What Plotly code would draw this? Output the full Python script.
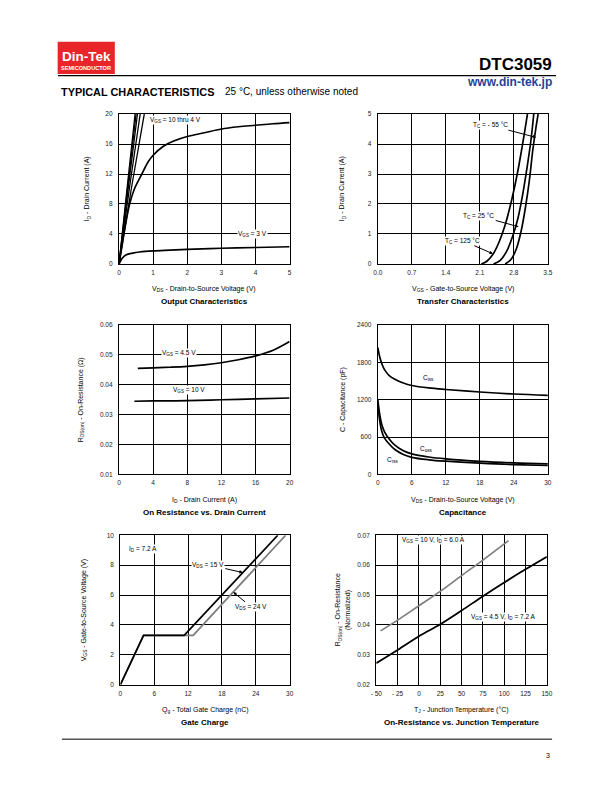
import plotly.graph_objects as go

W, H = 612, 792
FONT = "Liberation Sans, Arial, sans-serif"
NARROW = "Liberation Sans Narrow, Arial Narrow, Liberation Sans, Arial, sans-serif"
GRAY = "#7e7e7e"

# ---------------- data ----------------
# 1) Output characteristics
out_vds_steep = [[0, 0.24, 0.47], [0, 0.255, 0.50], [0, 0.275, 0.54], [0, 0.31, 0.62], [0, 0.37, 0.74]]
out_id_steep = [0, 10.3, 20]
out_vds_4v = [0, 0.1, 0.2, 0.31, 0.45, 0.67, 0.85, 1.0, 1.3, 1.6, 2.0, 2.5, 3.0, 3.5, 4.0, 4.5, 5.0]
out_id_4v = [0, 2.8, 5.5, 8.0, 10.0, 12.0, 13.6, 14.5, 15.7, 16.4, 17.0, 17.5, 18.0, 18.3, 18.5, 18.7, 18.85]
out_vds_3v = [0, 0.05, 0.1, 0.2, 0.4, 0.6, 1.0, 1.5, 2, 3, 4, 5]
out_id_3v = [0, 0.45, 0.8, 1.2, 1.45, 1.6, 1.75, 1.85, 1.95, 2.1, 2.2, 2.3]

# 2) Transfer characteristics
tr_vgs_125 = [2.13, 2.25, 2.38, 2.5, 2.62, 2.75, 2.87, 2.98, 3.08]
tr_id_125 = [0, 0.1, 0.35, 0.75, 1.3, 2.1, 3.0, 4.0, 5.0]
tr_vgs_25 = [2.38, 2.52, 2.65, 2.77, 2.88, 2.98, 3.07, 3.15, 3.21]
tr_id_25 = [0, 0.12, 0.42, 0.9, 1.5, 2.3, 3.2, 4.1, 5.0]
tr_vgs_m55 = [2.62, 2.74, 2.85, 2.95, 3.04, 3.12, 3.19, 3.25, 3.30]
tr_id_m55 = [0, 0.15, 0.5, 1.1, 1.9, 2.8, 3.8, 4.5, 5.0]

# 3) On-resistance vs drain current
ron_id_45 = [2.2, 4, 6, 8, 10, 12, 14, 16, 18, 20]
ron_r_45 = [0.0455, 0.0457, 0.0459, 0.0462, 0.0467, 0.0474, 0.0484, 0.0497, 0.0515, 0.0545]
ron_id_10 = [1.8, 4, 8, 12, 16, 20]
ron_r_10 = [0.0345, 0.0346, 0.0347, 0.0350, 0.0353, 0.0356]

# 4) Capacitance
cap_vds = [0, 0.3, 0.7, 1.2, 2, 3, 4.5, 6, 9, 12, 18, 24, 30]
cap_ciss = [2040, 1900, 1780, 1680, 1590, 1530, 1470, 1430, 1390, 1365, 1325, 1293, 1272]
cap_coss = [1200, 980, 800, 680, 570, 470, 380, 330, 280, 250, 210, 185, 170]
cap_crss = [1150, 880, 690, 580, 490, 400, 320, 275, 235, 212, 180, 158, 143]

# 5) Gate charge
gc_q_15 = [0, 4.1, 11.3, 27.9]
gc_v_15 = [0, 3.3, 3.3, 10]
gc_q_24 = [0, 4.1, 12.9, 29.3]
gc_v_24 = [0, 3.3, 3.3, 10]

# 6) On-resistance vs junction temperature
tj_45 = [-50, -25, 0, 25, 50, 75, 100, 125, 150]
rt_45 = [0.0272, 0.0316, 0.0362, 0.0402, 0.0448, 0.0496, 0.0542, 0.0586, 0.0628]
tj_10 = [-45, -25, 0, 25, 50, 75, 105]
rt_10 = [0.038, 0.0416, 0.0464, 0.0512, 0.0565, 0.0617, 0.0682]
tj_ticks = [-50, -25, 0, 25, 50, 75, 100, 125, 150]
tj_ticktext = ["- 50", "- 25", "0", "25", "50", "75", "100", "125", "150"]


def PX(x):
    return x / W


def PY(y):
    return 1 - y / H


# plot frames in pixels: (left, right, top, bottom)
frames = [
    (115.3, 289.3, 111.0, 262.3),
    (379.3, 552.7, 111.0, 262.3),
    (115.3, 289.3, 324.0, 474.6),
    (379.3, 552.7, 324.0, 474.6),
    (116.7, 289.3, 536.0, 686.7),
    (377.7, 551.7, 536.0, 686.7),
]

fig = go.Figure()


def add(i, x, y, color="black", width=1.7, shape="spline"):
    fig.add_trace(go.Scatter(x=x, y=y, mode="lines", xaxis="x%d" % i, yaxis="y%d" % i,
                             line=dict(color=color, width=width, shape=shape),
                             showlegend=False, hoverinfo="skip"))


# chart 1
for xs in out_vds_steep:
    add(1, xs, out_id_steep, width=1.3)
add(1, out_vds_4v, out_id_4v)
add(1, out_vds_3v, out_id_3v)
# chart 2
add(2, tr_vgs_125, tr_id_125)
add(2, tr_vgs_25, tr_id_25)
add(2, tr_vgs_m55, tr_id_m55)
# chart 3
add(3, ron_id_45, ron_r_45)
add(3, ron_id_10, ron_r_10)
# chart 4
add(4, cap_vds, cap_ciss)
add(4, cap_vds, cap_coss)
add(4, cap_vds, cap_crss)
# chart 5
add(5, gc_q_24, gc_v_24, color=GRAY, width=1.8, shape="linear")
add(5, gc_q_15, gc_v_15, shape="linear")
# chart 6
add(6, tj_10, rt_10, color=GRAY, width=1.7)
add(6, tj_45, rt_45, width=1.8)

axis_specs = [
    dict(xr=[0, 5], xd=1, xf="", yr=[0, 20], yd=4, yf=""),
    dict(xr=[0, 3.5], xd=0.7, xf=".1f", yr=[0, 5], yd=1, yf=""),
    dict(xr=[0, 20], xd=4, xf="", yr=[0.01, 0.06], yd=0.01, yf=".2f"),
    dict(xr=[0, 30], xd=6, xf="", yr=[0, 2400], yd=600, yf=""),
    dict(xr=[0, 30], xd=6, xf="", yr=[0, 10], yd=2, yf=""),
    dict(xr=[-50, 150], xd=25, xf="", yr=[0.02, 0.07], yd=0.01, yf=".2f"),
]

tickfont = dict(family=FONT, size=6.5, color="#222")
layout = dict(width=W, height=H, margin=dict(l=0, r=0, t=0, b=0),
              paper_bgcolor="white", plot_bgcolor="white", showlegend=False)

for i, (fr, sp) in enumerate(zip(frames, axis_specs), start=1):
    l, r, t, b = fr
    xa = dict(domain=[PX(l), PX(r)], range=sp["xr"], dtick=sp["xd"], tick0=sp["xr"][0],
              tickformat=sp["xf"], showgrid=True, gridcolor="black", gridwidth=1,
              showline=True, linecolor="black", linewidth=1.3, mirror=True,
              zeroline=False, ticks="", tickfont=tickfont, ticklabelstandoff=2,
              anchor="y%d" % i, fixedrange=True)
    ya = dict(domain=[PY(b), PY(t)], range=sp["yr"], dtick=sp["yd"], tick0=sp["yr"][0],
              tickformat=sp["yf"], showgrid=True, gridcolor="black", gridwidth=1,
              showline=True, linecolor="black", linewidth=1.3, mirror=True,
              zeroline=False, ticks="", tickfont=tickfont, ticklabelstandoff=4,
              anchor="x%d" % i, fixedrange=True)
    if i == 6:
        xa.update(tickmode="array", tickvals=tj_ticks, ticktext=tj_ticktext)
    key = "" if i == 1 else str(i)
    layout["xaxis" + key] = xa
    layout["yaxis" + key] = ya

ann = []
AX = 7  # axis title size
TT = 8  # chart title size


def T(px, py, text, size=6.5, bold=False, xanchor="center", color="black",
      family=FONT, angle=0, bg=None):
    d = dict(x=PX(px), y=PY(py), xref="paper", yref="paper", text=text, showarrow=False,
             xanchor=xanchor, yanchor="middle", textangle=angle,
             font=dict(family=family, size=size, color=color))
    if bold:
        d["text"] = "<b>" + text + "</b>"
    if bg:
        d["bgcolor"] = bg
        d["borderpad"] = 0
    ann.append(d)


def A(i, x, y, ax, ay, text):
    ann.append(dict(x=x, y=y, xref="x%d" % i, yref="y%d" % i, text=text, showarrow=True,
                    ax=ax, ay=ay, axref="pixel", ayref="pixel", arrowhead=2, arrowsize=0.7,
                    arrowwidth=1, arrowcolor="black", standoff=0, startstandoff=1,
                    font=dict(family=FONT, size=6.5, color="black"), bgcolor="white",
                    borderpad=0))


# header
T(559, 61, "DTC3059", size=17, bold=True, xanchor="right")
T(559, 78.5, "www.din-tek.jp", size=12, bold=True, xanchor="right", color="#1f3f9a")
T(54, 88.5, "TYPICAL CHARACTERISTICS", size=10.9, bold=True, xanchor="left")
T(221, 88.5, "25 °C, unless otherwise noted", size=10, xanchor="left")
T(82, 52.5, "Din-Tek", size=13.5, bold=True, color="white")
T(82, 64.5, "SEMICONDUCTOR", size=5.6, bold=True, color="white", family=NARROW)
T(557, 758, "3", size=7, xanchor="right")

# chart 1 text
T(83, 186.6, "I<sub>D</sub> - Drain Current (A)", size=AX, angle=-90)
T(202.3, 288, "V<sub>DS</sub> - Drain-to-Source Voltage (V)", size=AX)
T(202.3, 300.5, "Output Characteristics", size=TT, bold=True, family=NARROW)
T(146, 117.5, "V<sub>GS</sub> = 10 thru 4 V", xanchor="left", bg="white")
T(236, 232.5, "V<sub>GS</sub> = 3 V", xanchor="left", bg="white")

# chart 2 text
T(343, 186.6, "I<sub>D</sub> - Drain Current (A)", size=AX, angle=-90)
T(466, 288, "V<sub>GS</sub> - Gate-to-Source Voltage (V)", size=AX)
T(466, 300.5, "Transfer Characteristics", size=TT, bold=True, family=NARROW)
A(2, 3.26, 4.22, -46, -12, "T<sub>C</sub> = - 55 °C")
A(2, 2.90, 1.24, -40, -11, "T<sub>C</sub> = 25 °C")
A(2, 2.37, 0.34, -30, -13, "T<sub>C</sub> = 125 °C")

# chart 3 text
T(76, 399.3, "R<sub>DS(on)</sub> - On-Resistance (Ω)", size=AX, angle=-90)
T(202.3, 500.5, "I<sub>D</sub> - Drain Current (A)", size=AX)
T(202.3, 513.5, "On Resistance vs. Drain Current", size=TT, bold=True, family=NARROW)
T(158, 352.3, "V<sub>GS</sub> = 4.5 V", xanchor="left", bg="white")
T(169, 389, "V<sub>GS</sub> = 10 V", xanchor="left", bg="white")

# chart 4 text
T(343, 399.3, "C - Capacitance (pF)", size=AX, angle=-90)
T(466, 500.5, "V<sub>DS</sub> - Drain-to-Source Voltage (V)", size=AX)
T(466, 513.5, "Capacitance", size=TT, bold=True, family=NARROW)
T(424, 377, "C<sub>iss</sub>", xanchor="left", bg="white")
T(421, 449, "C<sub>oss</sub>", xanchor="left", bg="white")
T(388, 460, "C<sub>rss</sub>", xanchor="left", bg="white")

# chart 5 text
T(79, 611.3, "V<sub>GS</sub> - Gate-to-Source Voltage (V)", size=AX, angle=-90)
T(203, 712.5, "Q<sub>g</sub> - Total Gate Charge (nC)", size=AX)
T(203, 724.5, "Gate Charge", size=TT, bold=True, family=NARROW)
T(124, 549.5, "I<sub>D</sub> = 7.2 A", xanchor="left", bg="white")
A(5, 21.7, 7.5, -35, -8, "V<sub>DS</sub> = 15 V")
A(5, 20.0, 6.2, 18, 15, "V<sub>DS</sub> = 24 V")

# chart 6 text
T(339, 611.3, "R<sub>DS(on)</sub> - On-Resistance", size=AX, angle=-90)
T(349, 611.3, "(Normalized)", size=AX, angle=-90)
T(464.7, 712.5, "T<sub>J</sub> - Junction Temperature (°C)", size=AX)
T(464.7, 724.5, "On-Resistance vs. Junction Temperature", size=TT, bold=True, family=NARROW)
T(403, 540.5, "V<sub>GS</sub> = 10 V, I<sub>D</sub> = 6.0 A", xanchor="left", bg="white")
T(473, 618, "V<sub>GS</sub> = 4.5 V, I<sub>D</sub> = 7.2 A", xanchor="left", bg="white")

layout["annotations"] = ann
layout["shapes"] = [
    dict(type="rect", xref="paper", yref="paper", x0=PX(52.7), x1=PX(111), y0=PY(70.5), y1=PY(38),
         fillcolor="#e8262a", line=dict(width=0), layer="below"),
    dict(type="line", xref="paper", yref="paper", x0=PX(53), x1=PX(561), y0=PY(72.3), y1=PY(72.3),
         line=dict(color="black", width=1.3)),
    dict(type="line", xref="paper", yref="paper", x0=PX(57), x1=PX(557), y0=PY(741.7), y1=PY(741.7),
         line=dict(color="black", width=1)),
]

fig.update_layout(**layout)
fig.write_html("out.html", config={"displayModeBar": False})
